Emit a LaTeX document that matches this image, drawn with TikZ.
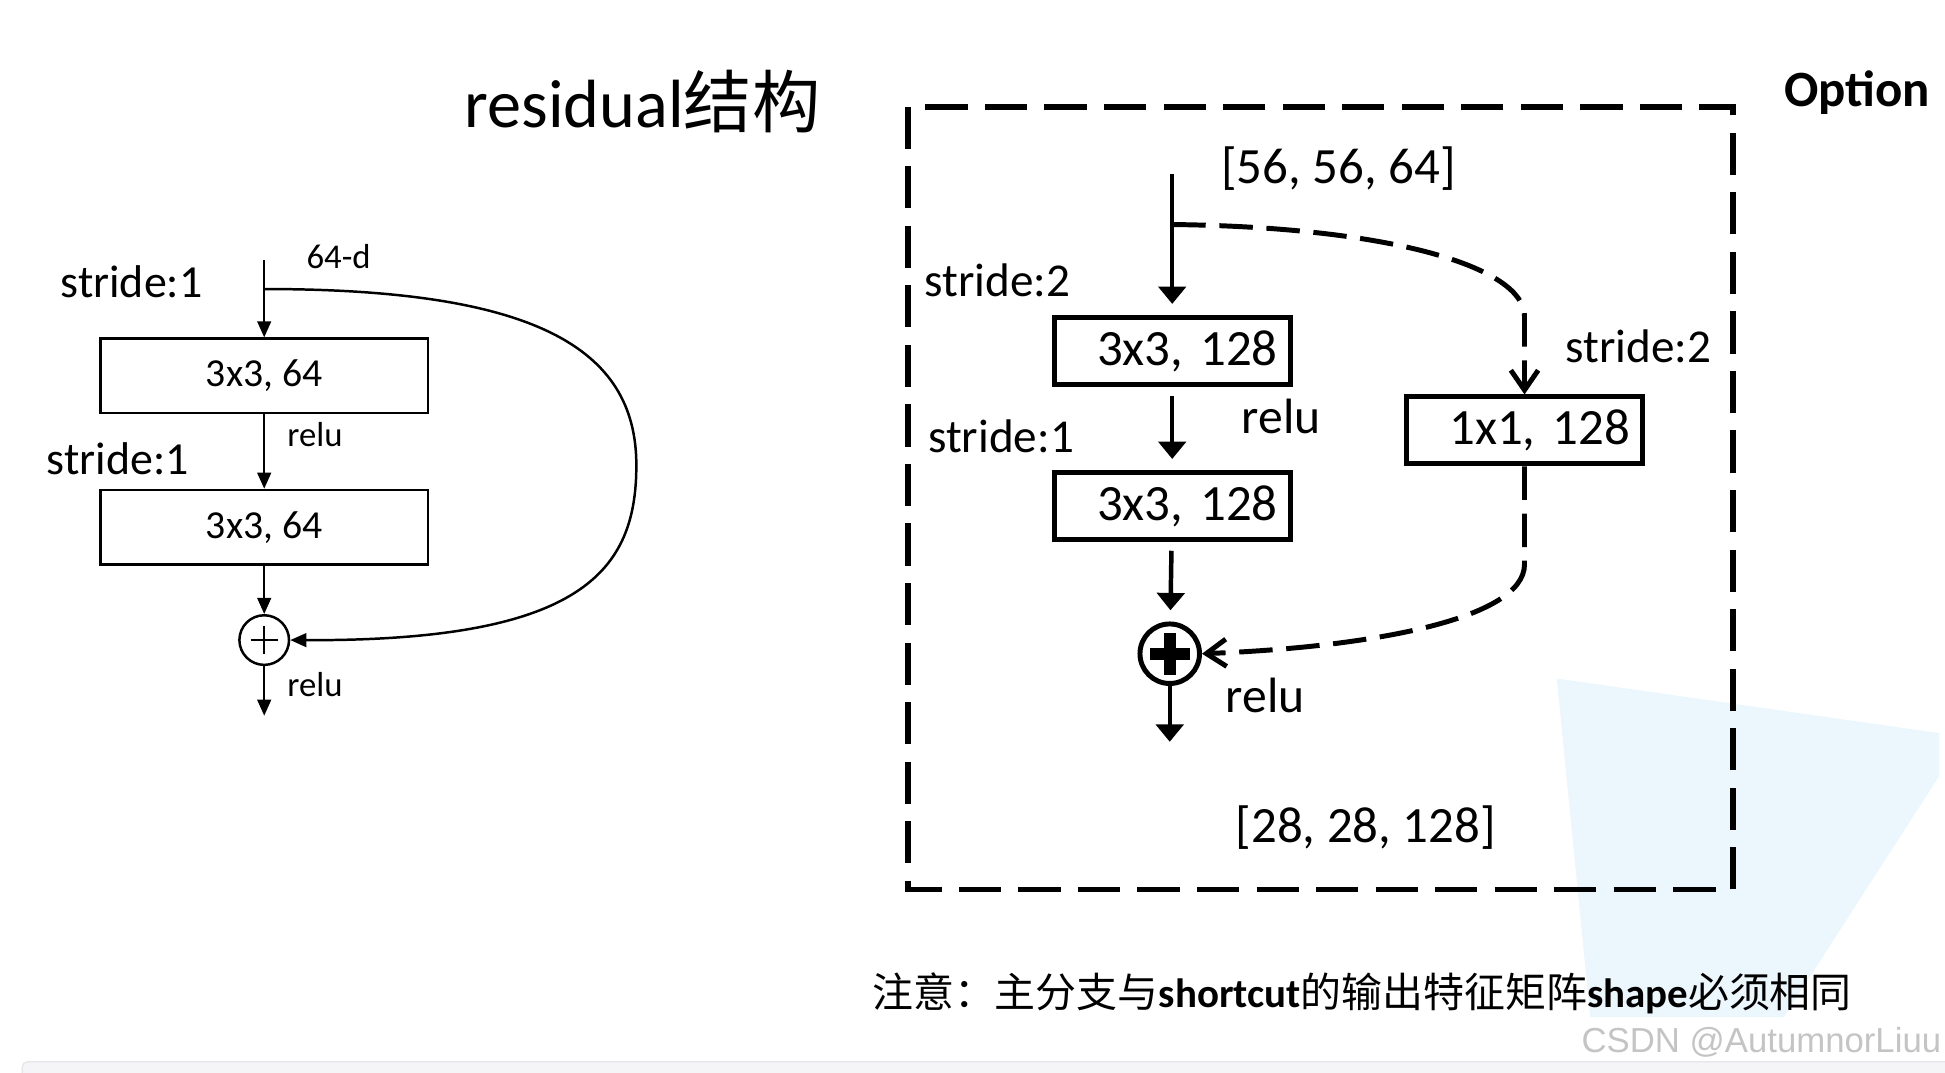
\documentclass[tikz,border=0pt]{standalone}
\usepackage{fontspec}
\setmainfont{Carlito}
\newfontfamily\cjk{Noto Sans CJK SC}
\newfontfamily\wmfont{Liberation Sans}
\usetikzlibrary{arrows.meta}

\definecolor{overlayblue}{RGB}{235,246,253}
\definecolor{stripgray}{RGB}{245,245,247}
\definecolor{stripline}{RGB}{228,228,234}
\definecolor{markgray}{RGB}{196,196,196}

\newcommand{\fsz}[1]{\fontsize{#1}{#1}\selectfont}

\begin{document}
\begin{tikzpicture}[
x=1pt, y=-1pt, % toạ độ theo pixel của slide, trục y hướng xuống
lbl/.style={inner sep=0pt, font=\fsz{#1}},
thinarrow/.style={-{Triangle[length=13pt,width=11pt]}, line width=2pt},
boldarrow/.style={-{Triangle[length=14pt,width=22pt]}, line width=3.6pt},
gapped/.style={shorten >=9pt, shorten <=7pt},
shortcut/.style={-{Straight Barb[length=16pt,width=22pt]}, line width=4pt, dash pattern=on 27pt off 11pt},
optframe/.style={draw, line width=4.6pt, dash pattern=on 34pt off 14pt},
lbox/.style={draw, line width=2pt, minimum width=264pt, minimum height=60pt, inner sep=0pt, font=\fsz{32}},
rbox/.style={draw, line width=4pt, minimum width=190pt, minimum height=54pt, text width=170pt, align=right, inner xsep=10pt, inner ysep=0pt, font=\fsz{41}},
sumL/.style={circle, draw, line width=2pt, minimum size=40pt, inner sep=0pt,
  path picture={
    \draw[line width=2pt] ([xshift=-11pt]path picture bounding box.center) -- ([xshift=11pt]path picture bounding box.center);
    \draw[line width=2pt] ([yshift=-11pt]path picture bounding box.center) -- ([yshift=11pt]path picture bounding box.center);}},
sumR/.style={circle, draw, line width=4pt, minimum size=48pt, inner sep=0pt,
  path picture={
    \fill ([xshift=-16pt,yshift=-4.75pt]path picture bounding box.center) rectangle ([xshift=16pt,yshift=4.75pt]path picture bounding box.center);
    \fill ([xshift=-4.75pt,yshift=-17pt]path picture bounding box.center) rectangle ([xshift=4.75pt,yshift=17pt]path picture bounding box.center);}}
]
\useasboundingbox (0,0) rectangle (1568,865);

% --- Nền ---
\fill[overlayblue] (1255,547) -- (1563,591) -- (1563,626) -- (1438,820) -- (1282,820) -- cycle;
\filldraw[fill=stripgray, draw=stripline, line width=1pt, rounded corners=4pt] (18,856) rectangle (1590,890);

% --- Khối residual bên trái ---
\node[lbl=55] (title) at (518,82) {residual{\cjk 结构}};

\coordinate (inL) at (213,210);
\coordinate (splitL) at (213,233);
\coordinate (outL) at (213,577);

\node[lbox] (convL1) at (213,303) {3x3, 64};
\node[lbox] (convL2) at (213,425) {3x3, 64};
\node[sumL] (addL) at (213,516) {};

\node[lbl=37] (strideL1) at (106,227) {stride:1};
\node[lbl=28] (dimL) at (273,207) {64-d};
\node[lbl=28] (reluL1) at (254,350) {relu};
\node[lbl=37] (strideL2) at (95,370) {stride:1};
\node[lbl=28] (reluL2) at (254,552) {relu};

\draw[thinarrow] (inL) -- (convL1);
\draw[thinarrow] (convL1) -- (convL2);
\draw[thinarrow] (convL2) -- (addL);
\draw[thinarrow] (addL) -- (outL);
% đường tắt (identity)
\draw[thinarrow] (splitL) .. controls (430,233) and (513,280) .. (513,375) .. controls (513,460) and (470,517) .. (addL.east);

% --- Khối Option bên phải ---
\draw[optframe] (732,86) rectangle (1397,717);
\node[inner sep=0pt, font=\bfseries\fsz{41}] (option) at (1497,75) {Option};
\node[lbl=41] (inshape) at (1079,136) {[56, 56, 64]};

\coordinate (inR) at (945,133);
\coordinate (splitR) at (945,181);
\coordinate (bendR1) at (1229,255);
\coordinate (bendR2) at (1229,455);
\coordinate (outR) at (943,598);

\node[rbox] (convA) at (945,283) {3x3, 128};
\node[rbox] (convB) at (945,408) {3x3, 128};
\node[rbox] (convC) at (1229,347) {1x1, 128};
\node[sumR] (addR) at (943,527) {};

\node[lbl=38] (strideA) at (804,226) {stride:2};
\node[lbl=40] (reluA) at (1033,336) {relu};
\node[lbl=38] (strideB) at (807,352) {stride:1};
\node[lbl=38] (strideC) at (1321,279) {stride:2};
\node[lbl=40] (reluR) at (1020,561) {relu};
\node[lbl=41] (outshape) at (1101,667) {[28, 28, 128]};

\draw[boldarrow, gapped] (inR) -- (convA);
\draw[boldarrow, gapped] (convA) -- (convB);
\draw[boldarrow, gapped] (convB) -- (addR);
\draw[boldarrow] (addR) -- (outR);
% nhánh shortcut 1x1
\draw[shortcut] (splitR) .. controls (1120,183) and (1229,215) .. (bendR1) -- (convC);
\draw[shortcut] (convC) -- (bendR2) .. controls (1229,500) and (1100,522) .. (addR.east);

% --- Ghi chú ---
\node[lbl=33] (note) at (1098,801) {{\cjk 注意：主分支与}\textbf{shortcut}{\cjk 的输出特征矩阵}\textbf{shape}{\cjk 必须相同}};
\node[inner sep=0pt, text=markgray, font=\wmfont\fsz{28}] (mark) at (1420,840) {CSDN @AutumnorLiuu};

\end{tikzpicture}
\end{document}
